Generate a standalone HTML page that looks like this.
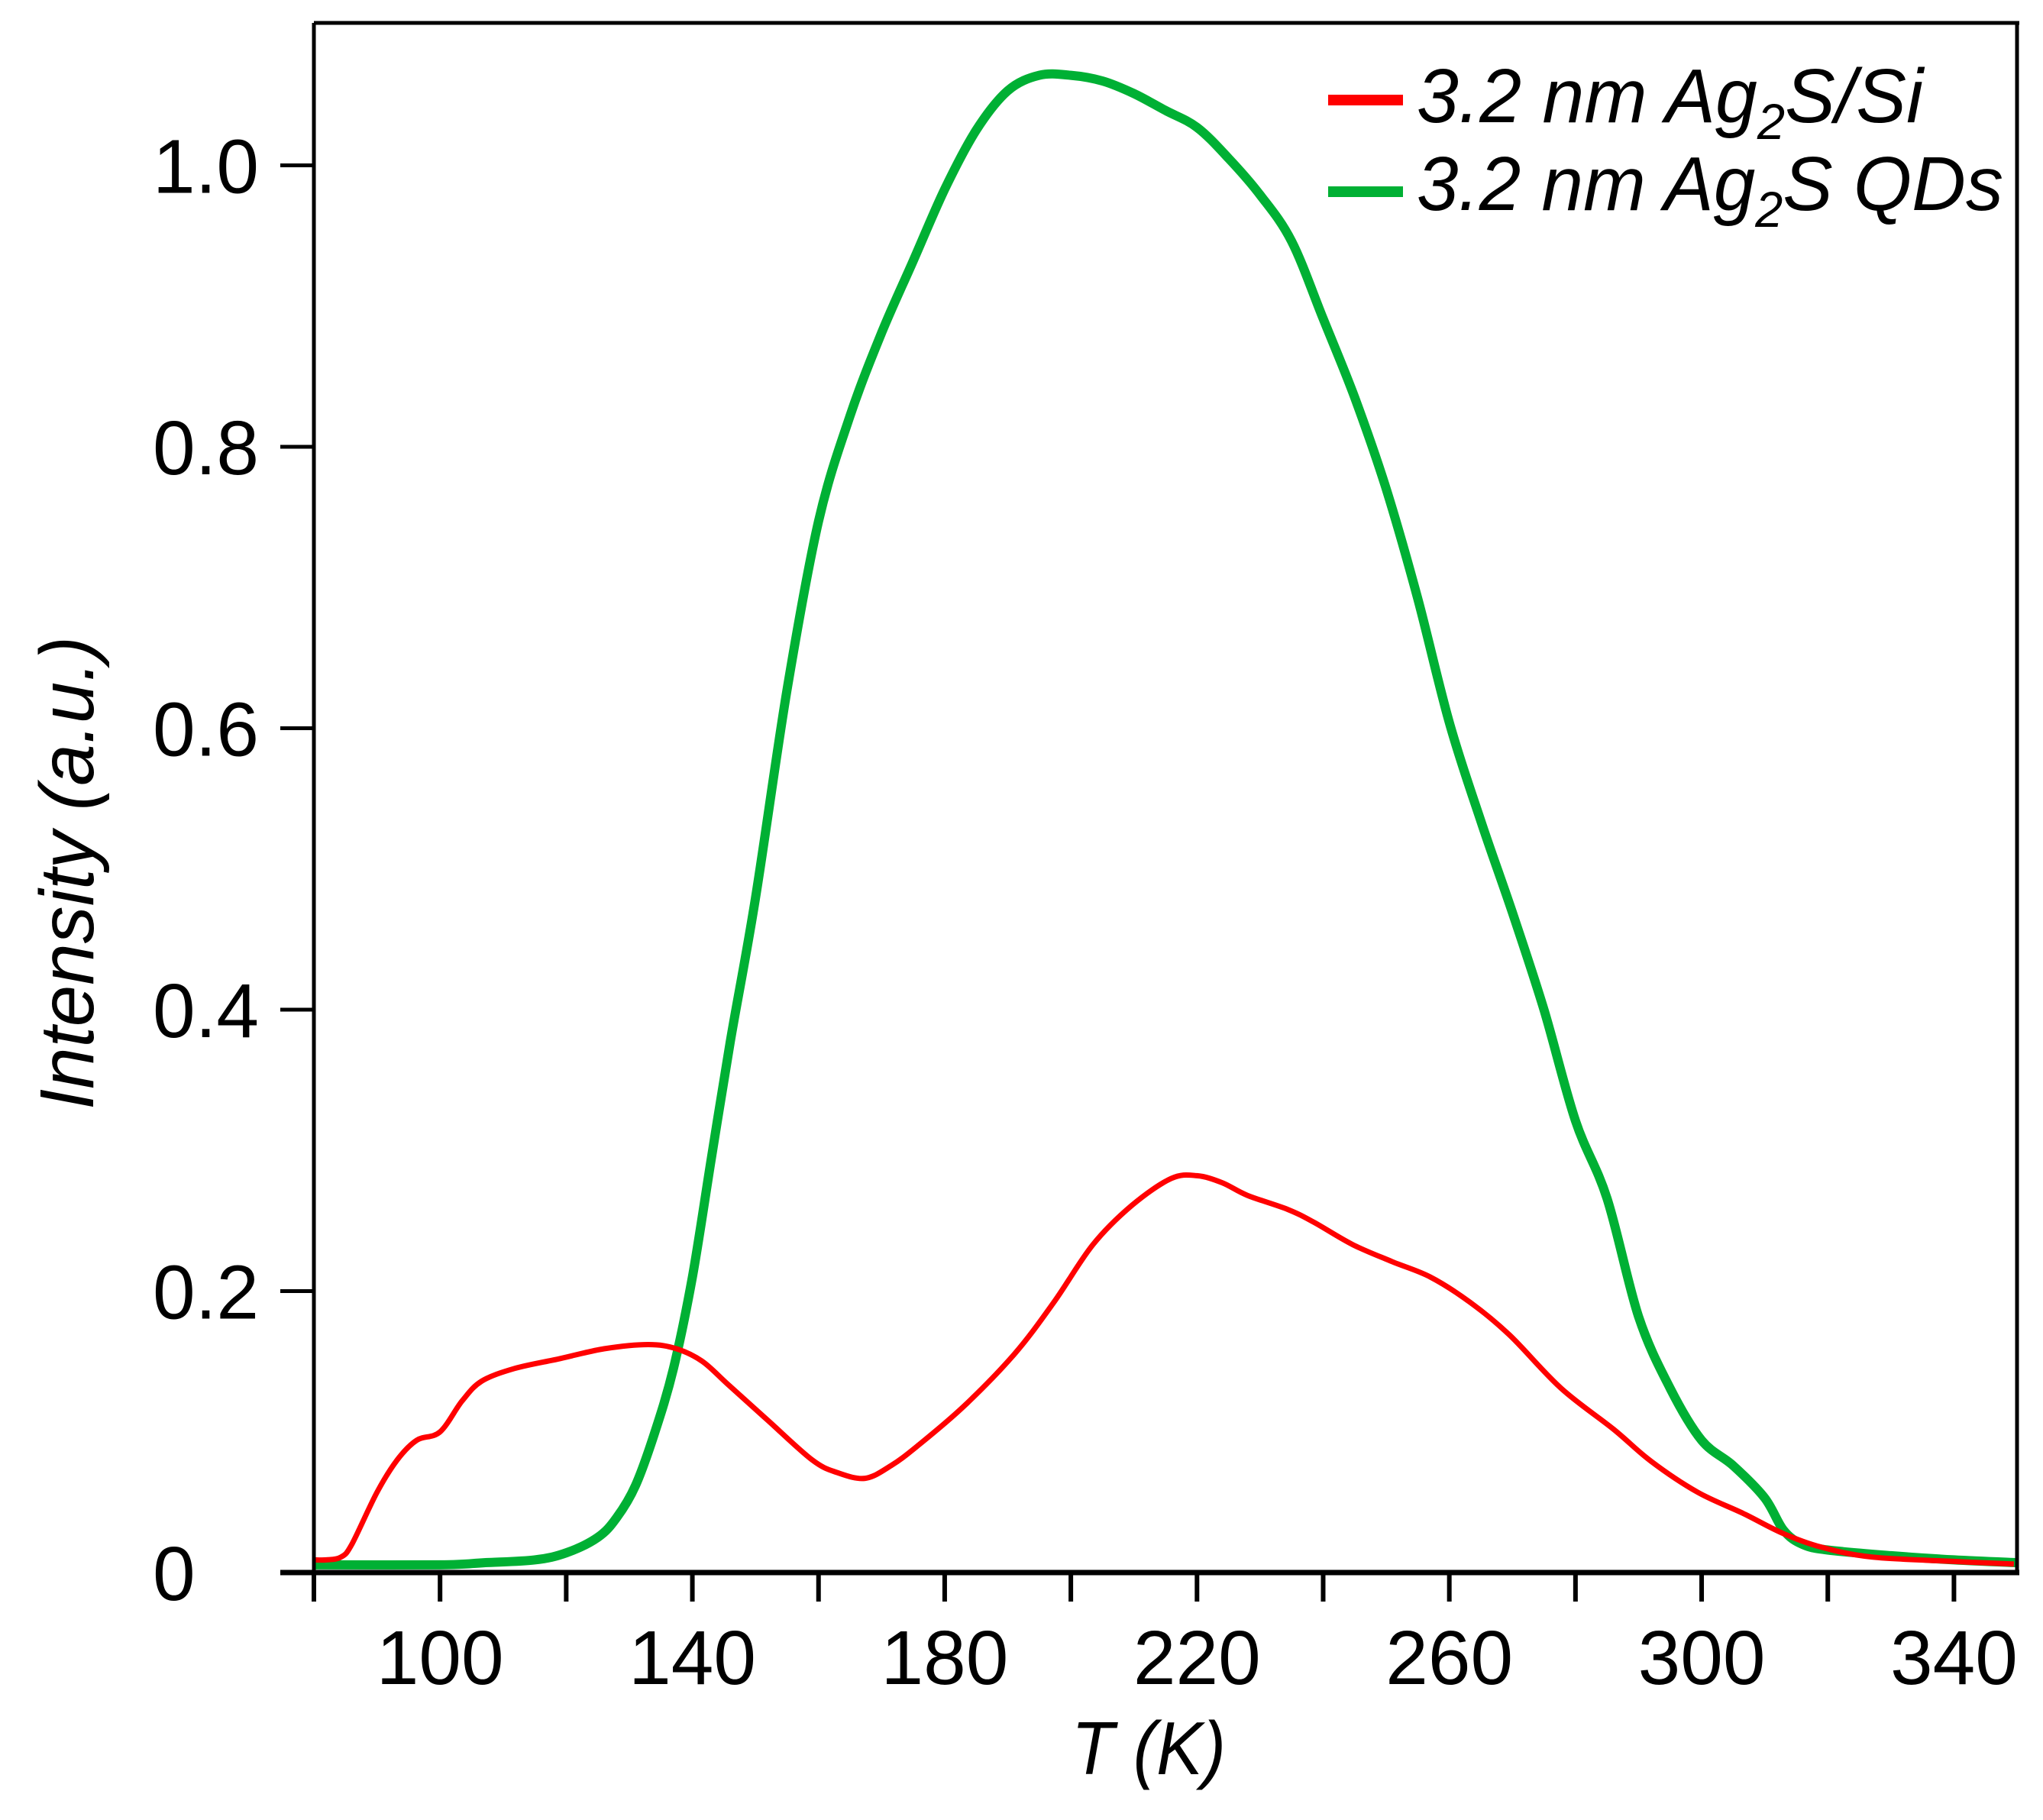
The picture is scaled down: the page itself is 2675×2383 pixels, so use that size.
<!DOCTYPE html>
<html><head><meta charset="utf-8"><style>
html,body{margin:0;padding:0;background:#fff;}
svg{display:block;}
text{font-family:"Liberation Sans",Arial,sans-serif;fill:#000;}
</style></head><body>
<svg id="chart" width="2675" height="2383" viewBox="0 0 2675 2383" xmlns="http://www.w3.org/2000/svg">
<rect width="2675" height="2383" fill="#fff"/>
<g id="ticks"></g>
<g id="series"></g>
<g id="frame"></g>
<text font-size="100" font-style="italic" text-anchor="middle" transform="translate(122,1143) rotate(-90)" textLength="620" lengthAdjust="spacingAndGlyphs">Intensity (a.u.)</text>
<text font-size="98" font-style="italic" x="1403" y="2323" textLength="202" lengthAdjust="spacingAndGlyphs">T (K)</text>
<g>
  <line x1="1739" y1="131" x2="1837" y2="131" stroke="#ff0000" stroke-width="14"/>
  <text font-size="100" font-style="italic" x="1855" y="160" textLength="663" lengthAdjust="spacingAndGlyphs">3.2 nm Ag<tspan font-size="66" dy="22">2</tspan><tspan dy="-22">S/Si</tspan></text>
  <line x1="1739" y1="251" x2="1837" y2="251" stroke="#00b034" stroke-width="14"/>
  <text font-size="100" font-style="italic" x="1855" y="275" textLength="768" lengthAdjust="spacingAndGlyphs">3.2 nm Ag<tspan font-size="66" dy="22">2</tspan><tspan dy="-22">S QDs</tspan></text>
</g>
</svg>
<script>
const xTicks = [80,100,120,140,160,180,200,220,240,260,280,300,320,340];
const xTickLabels = ["100","140","180","220","260","300","340"];
const yTicks = [0,0.2,0.4,0.6,0.8,1.0];
const yTickLabels = ["0","0.2","0.4","0.6","0.8","1.0"];
const redT = [80,82,84.3,86,90,93.2,96.3,100,103.5,106.6,111.8,119,126,133,137.5,141.6,145.8,152,159,163,167.4,171.5,175.7,183,191,197.3,203.5,209.7,215.9,220,224,228,234.4,238.5,244.7,250.9,257,263.3,269.5,277.7,286,292,299.4,306.6,312.8,319,327,339.6,349.5];
const redI = [0.009,0.009,0.011,0.02,0.057,0.08,0.094,0.10,0.122,0.136,0.145,0.152,0.159,0.162,0.159,0.15,0.133,0.108,0.08,0.071,0.067,0.076,0.09,0.118,0.155,0.192,0.233,0.261,0.28,0.282,0.277,0.268,0.258,0.249,0.233,0.221,0.21,0.192,0.169,0.131,0.102,0.079,0.057,0.042,0.028,0.018,0.011,0.008,0.006];
const greenT = [80,100,107,115,120,125,128,131,134,137,140,143,146,150,155,160,165,170,175,180,185,190,195,200,205,210,215,220,225,230,235,240,245,250,255,260,265,270,275,280,285,290,295,300,305,310,313,316,320,330,340,350];
const greenI = [0.0055,0.0055,0.007,0.009,0.014,0.025,0.039,0.062,0.099,0.145,0.21,0.294,0.377,0.479,0.627,0.747,0.822,0.881,0.932,0.983,1.025,1.053,1.064,1.064,1.06,1.051,1.039,1.027,1.005,0.979,0.946,0.891,0.835,0.77,0.692,0.604,0.534,0.469,0.4,0.321,0.266,0.182,0.131,0.094,0.076,0.053,0.03,0.02,0.016,0.012,0.009,0.007];

const NS = "http://www.w3.org/2000/svg";
const L = 411, R = 2641, T = 30, B = 2059;
const xMin = 80, xMax = 350, yMin = 0;
function xs(v){ return L + (v - xMin) / (xMax - xMin) * (R - L); }
function ys(v){ return B - (v - yMin) / (0.2) * 368.5; }
function mk(tag, attrs, parent){ const e = document.createElementNS(NS, tag); for (const k in attrs) e.setAttribute(k, attrs[k]); parent.appendChild(e); return e; }

const tg = document.getElementById('ticks');
xTicks.forEach(v => {
  const t = mk('line', {x1: xs(v), x2: xs(v), y1: B, y2: B + 38, stroke: '#000', 'stroke-width': 6}, tg);
  
  
});
xTickLabels.forEach(s => {
  const t = mk('text', {x: xs(+s), y: 2205, 'font-size': 100, 'text-anchor': 'middle'}, tg);
  t.textContent = s;
  
  
});
yTicks.forEach((v, i) => {
  const t = mk('line', {x1: 367, x2: L, y1: ys(v), y2: ys(v), stroke: '#000', 'stroke-width': 5}, tg);
  
  
  const lb = mk('text', {x: 200, y: ys(v) + 36, 'font-size': 100}, tg);
  lb.textContent = yTickLabels[i];
  
  
});

const sg = document.getElementById('series');
function path(ts, vs){
  const p = ts.map((t, i) => [xs(t), ys(vs[i])]);
  let d = 'M' + p[0][0].toFixed(1) + ' ' + p[0][1].toFixed(1);
  for (let i = 0; i < p.length - 1; i++) {
    const p0 = p[i - 1] || p[i], p1 = p[i], p2 = p[i + 1], p3 = p[i + 2] || p2;
    const c1x = p1[0] + (p2[0] - p0[0]) / 6, c1y = p1[1] + (p2[1] - p0[1]) / 6;
    const c2x = p2[0] - (p3[0] - p1[0]) / 6, c2y = p2[1] - (p3[1] - p1[1]) / 6;
    d += ' C' + c1x.toFixed(1) + ' ' + c1y.toFixed(1) + ' ' + c2x.toFixed(1) + ' ' + c2y.toFixed(1) + ' ' + p2[0].toFixed(1) + ' ' + p2[1].toFixed(1);
  }
  return d;
}
const g = mk('path', {d: path(greenT, greenI), fill: 'none', stroke: '#00b034', 'stroke-width': 12, 'stroke-linejoin': 'round'}, sg);


const r = mk('path', {d: path(redT, redI), fill: 'none', stroke: '#ff0000', 'stroke-width': 7, 'stroke-linejoin': 'round'}, sg);



const fg = document.getElementById('frame');
const xa = mk('line', {x1: 367, x2: R + 3, y1: B, y2: B, stroke: '#000', 'stroke-width': 7}, fg);


const ya = mk('line', {x1: L, x2: L, y1: T, y2: B + 38, stroke: '#000', 'stroke-width': 5}, fg);


const tb = mk('line', {x1: L, x2: R + 3, y1: T, y2: T, stroke: '#000', 'stroke-width': 5}, fg);


const rb = mk('line', {x1: R, x2: R, y1: T, y2: B + 3, stroke: '#000', 'stroke-width': 5}, fg);


</script>
</body></html>
